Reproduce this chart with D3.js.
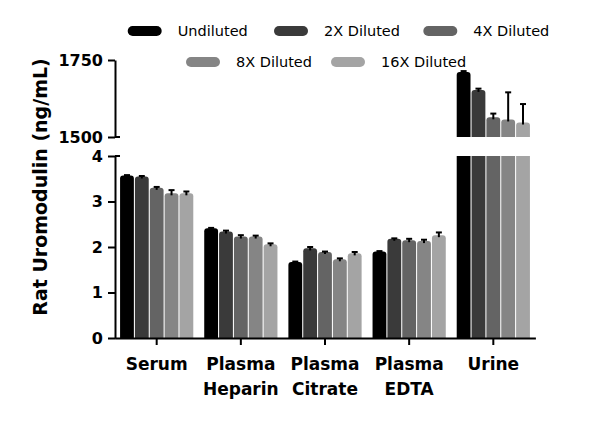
<!DOCTYPE html>
<html>
<head>
<meta charset="utf-8">
<script src="https://cdn.jsdelivr.net/npm/d3@7"></script>
<style>
    body { margin: 0; background: #fff; }
    svg { display: block; }
    text { font-family: "DejaVu Sans", sans-serif; fill: #000; }
</style>
</head>
<body>
<svg id="chart" width="600" height="430"></svg>
<script>
const groups = ["Serum", "Plasma Heparin", "Plasma Citrate", "Plasma EDTA", "Urine"]
const series = ["Undiluted", "2X Diluted", "4X Diluted", "8X Diluted", "16X Diluted"]
const colors = ["#000000", "#3a3a3a", "#646464", "#858585", "#a4a4a4"]

// mean per series, one value per group (ng/mL)
const undiluted = [3.57, 2.41, 1.67, 1.90, 1711]
const diluted2x = [3.55, 2.34, 1.97, 2.18, 1653]
const diluted4x = [3.30, 2.23, 1.89, 2.15, 1564]
const diluted8x = [3.18, 2.23, 1.73, 2.13, 1557]
const diluted16x = [3.18, 2.06, 1.86, 2.26, 1547]

// upper error (SD)
const errUndiluted = [0.01, 0.01, 0.01, 0.01, 3]
const err2x = [0.01, 0.02, 0.03, 0.01, 4]
const err4x = [0.02, 0.03, 0.01, 0.03, 12]
const err8x = [0.07, 0.02, 0.02, 0.03, 88]
const err16x = [0.04, 0.02, 0.03, 0.06, 60]

const lowTicks = [0, 1, 2, 3, 4]
const highTicks = [1500, 1750]

const values = [undiluted, diluted2x, diluted4x, diluted8x, diluted16x]
const errors = [errUndiluted, err2x, err4x, err8x, err16x]

const svg = d3.select("#chart")

const x = d3.scaleBand()
    .domain(groups)
    .range([114.6, 535.4])
    .paddingInner(0.13)
    .paddingOuter(0.065)

const xInner = d3.scaleBand()
    .domain(series)
    .range([0, x.bandwidth()])
    .paddingInner(0.07)

const yLow = d3.scaleLinear().domain([0, 4]).range([338, 156])
const yHigh = d3.scaleLinear().domain([1500, 1750]).range([137, 60])

const bars = []
series.forEach((s, i) => {
    groups.forEach((g, j) => {
        bars.push({series: s, group: g, value: values[i][j], err: errors[i][j], color: colors[i]})
    })
})

const roundTop = (x0, y0, w, h, r) => {
    r = Math.min(r, h, w / 2)
    return `M${x0},${y0 + h}V${y0 + r}Q${x0},${y0} ${x0 + r},${y0}H${x0 + w - r}Q${x0 + w},${y0} ${x0 + w},${y0 + r}V${y0 + h}Z`
}

// bars in the lower section (values above 4 are cut at the top of that section)
const barG = svg.append("g")
bars.forEach(d => {
    const bx = x(d.group) + xInner(d.series)
    const w = xInner.bandwidth()
    if (d.value <= 4) {
        const top = yLow(d.value)
        barG.append("path")
            .attr("d", roundTop(bx, top, w, yLow(0) - top, 3))
            .attr("fill", d.color)
    } else {
        barG.append("rect")
            .attr("x", bx).attr("y", yLow(4))
            .attr("width", w).attr("height", yLow(0) - yLow(4))
            .attr("fill", d.color)
        const top = yHigh(d.value)
        barG.append("path")
            .attr("d", roundTop(bx, top, w, yHigh(1500) - top, 3))
            .attr("fill", d.color)
    }
})

// error bars, upper half only
const errG = svg.append("g")
    .attr("stroke", "#000")
    .attr("stroke-width", 2)
bars.forEach(d => {
    const cx = x(d.group) + xInner(d.series) + xInner.bandwidth() / 2
    const y = d.value <= 4 ? yLow : yHigh
    const y1 = y(d.value)
    const y2 = y(d.value + d.err)
    errG.append("line").attr("x1", cx).attr("x2", cx).attr("y1", y1 + 2).attr("y2", y2)
    errG.append("line").attr("x1", cx - 3).attr("x2", cx + 3).attr("y1", y2).attr("y2", y2)
})

// axes
const styleAxis = g => {
    g.selectAll("path, line").attr("stroke", "#000").attr("stroke-width", 2)
    g.selectAll("text")
        .attr("font-family", "DejaVu Sans")
        .attr("font-weight", "bold")
        .attr("font-size", 16)
        .attr("fill", "#000")
}

const axisLow = svg.append("g")
    .attr("transform", "translate(115,0)")
    .call(d3.axisLeft(yLow).tickValues(lowTicks).tickFormat(d3.format("d")).tickSize(7).tickSizeOuter(0).tickPadding(5))
    .call(styleAxis)

const axisHigh = svg.append("g")
    .attr("transform", "translate(115,0)")
    .call(d3.axisLeft(yHigh).tickValues(highTicks).tickFormat(d3.format("d")).tickSize(7).tickSizeOuter(0).tickPadding(5))
    .call(styleAxis)

// small break caps on the right of the axis
svg.append("g")
    .attr("stroke", "#000")
    .attr("stroke-width", 2)
    .selectAll("line")
    .data([yHigh(1500), yLow(4)])
    .join("line")
    .attr("x1", 115).attr("x2", 120)
    .attr("y1", d => d).attr("y2", d => d)

const axisX = svg.append("g")
    .attr("transform", `translate(0,${yLow(0)})`)
    .call(d3.axisBottom(x).tickSize(7).tickSizeOuter(0).tickFormat(""))
    .call(styleAxis)

svg.append("g")
    .selectAll("text")
    .data(groups)
    .join("text")
    .attr("x", d => x(d) + x.bandwidth() / 2)
    .attr("y", 370)
    .attr("text-anchor", "middle")
    .attr("font-weight", "bold")
    .attr("font-size", 17)
    .selectAll("tspan")
    .data(d => d.split(" "))
    .join("tspan")
    .attr("x", function() { return d3.select(this.parentNode).attr("x") })
    .attr("dy", (d, i) => i ? 25 : 0)
    .text(d => d)

svg.append("text")
    .attr("transform", "translate(47,187) rotate(-90)")
    .attr("text-anchor", "middle")
    .attr("font-weight", "bold")
    .attr("font-size", 19)
    .text("Rat Uromodulin (ng/mL)")

// legend
const legendPos = [[127.7, 31], [274, 31], [423.3, 31], [186, 62], [331, 62]]
const legend = svg.append("g")
    .selectAll("g")
    .data(series)
    .join("g")
    .attr("transform", (d, i) => `translate(${legendPos[i][0]},${legendPos[i][1]})`)

legend.append("rect")
    .attr("x", 0).attr("y", -5)
    .attr("width", 34).attr("height", 10)
    .attr("rx", 5)
    .attr("fill", (d, i) => colors[i])

legend.append("text")
    .attr("x", 50).attr("y", 5)
    .attr("font-size", 14.5)
    .attr("fill", "#111")
    .text(d => d)
</script>
</body>
</html>
